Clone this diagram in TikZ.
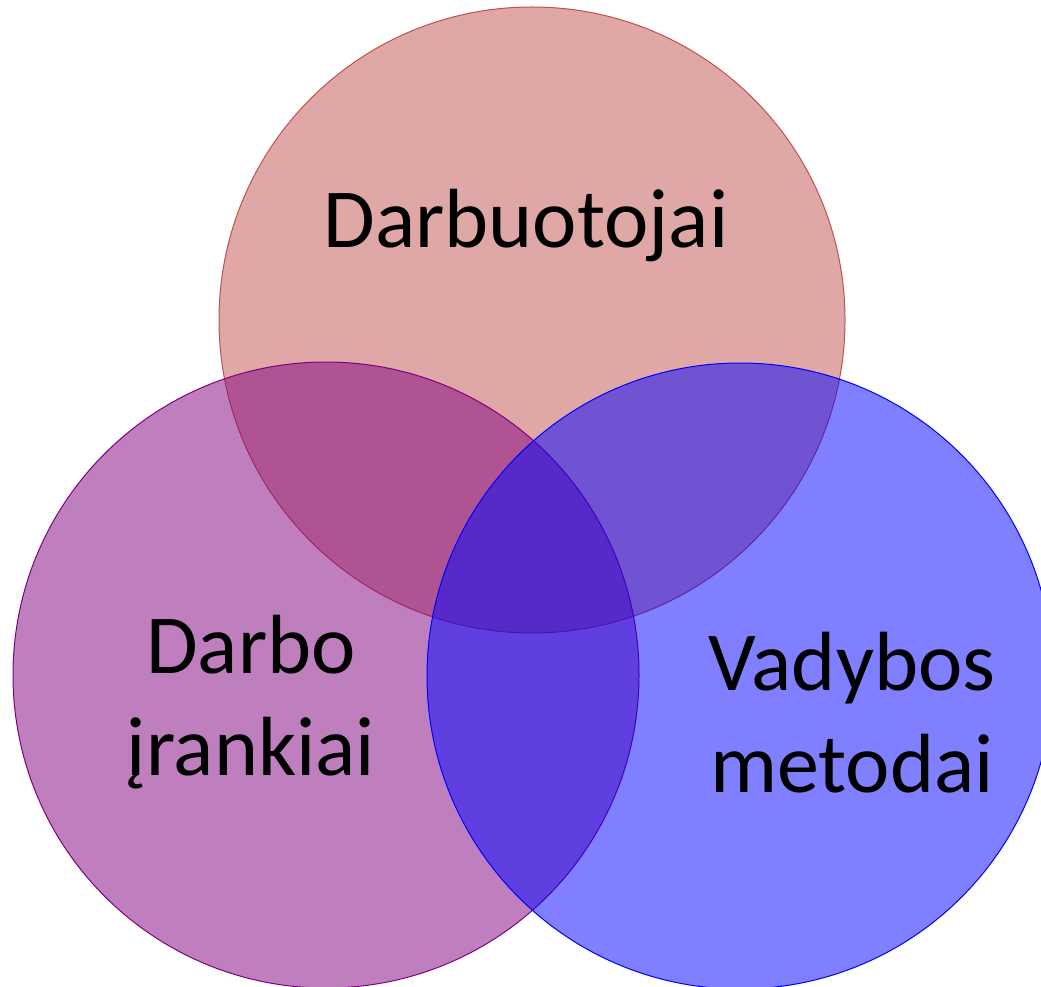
\documentclass[tikz,border=0pt]{standalone}
\usepackage{fontspec}
\setmainfont{Carlito}
\usepackage{xcolor}
\usepackage{tikz}
\usetikzlibrary{positioning}
\definecolor{staffred}{HTML}{C0504D}
\definecolor{toolpurple}{HTML}{800080}
\definecolor{methodblue}{HTML}{0000FF}
\tikzset{
    setcircle/.style={circle, draw=#1, fill=#1, fill opacity=0.5, draw opacity=1, line width=0.75pt, minimum size=469.5pt, inner sep=0pt},
    setlabel/.style={font=\fontsize{63pt}{76pt}\selectfont, align=center, anchor=base, text=black, inner sep=0pt}
}

\begin{document}
\begin{tikzpicture}[x=0.75pt, y=-0.75pt]
    % Page frame
    \useasboundingbox (0,0) rectangle (1041,987);
    \clip (0,0) rectangle (1041,987);

    % The three sets
    \node[setcircle=staffred] (staff) at (532,320) {};
    \node[setcircle=toolpurple] (tools) at (326,675) {};
    \node[setcircle=methodblue] (methods) at (740,676) {};

    % Set names (base = last line)
    \node[setlabel] (stafflabel) at (526,248) {Darbuotojai};
    \node[setlabel] (toolslabel) at (251,775) {Darbo\\įrankiai};
    \node[setlabel] (methodslabel) at (852,792) {Vadybos\\metodai};
\end{tikzpicture}
\end{document}
